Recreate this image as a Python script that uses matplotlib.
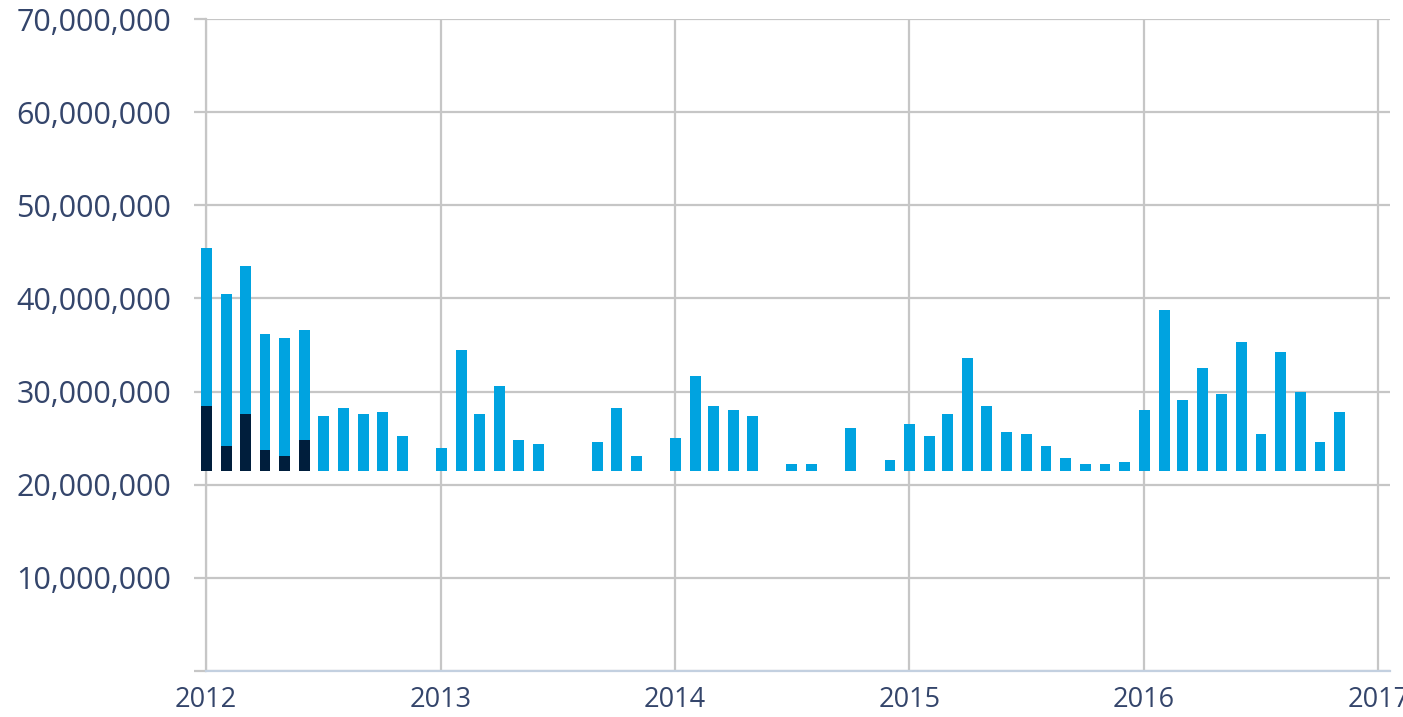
import datetime as dt
import matplotlib
matplotlib.use("Agg")
import matplotlib.pyplot as plt
import matplotlib.dates as mdates
from matplotlib.ticker import FuncFormatter

# monthly totals (bars float from a common base line)
months = ["2012-01", "2012-02", "2012-03", "2012-04", "2012-05", "2012-06",
          "2012-07", "2012-08", "2012-09", "2012-10", "2012-11",
          "2013-01", "2013-02", "2013-03", "2013-04", "2013-05", "2013-06",
          "2013-09", "2013-10", "2013-11",
          "2014-01", "2014-02", "2014-03", "2014-04", "2014-05",
          "2014-07", "2014-08", "2014-10", "2014-12",
          "2015-01", "2015-02", "2015-03", "2015-04", "2015-05", "2015-06",
          "2015-07", "2015-08", "2015-09", "2015-10", "2015-11", "2015-12",
          "2016-01", "2016-02", "2016-03", "2016-04", "2016-05", "2016-06",
          "2016-07", "2016-08", "2016-09", "2016-10", "2016-11"]
totals = [45.4, 40.5, 43.5, 36.2, 35.8, 36.6,
          27.4, 28.2, 27.6, 27.8, 25.2,
          23.9, 34.5, 27.6, 30.6, 24.8, 24.4,
          24.6, 28.2, 23.1,
          25.0, 31.7, 28.4, 28.0, 27.4,
          22.2, 22.2, 26.1, 22.6,
          26.5, 25.2, 27.6, 33.6, 28.4, 25.7,
          25.4, 24.2, 22.9, 22.2, 22.2, 22.4,
          28.0, 38.8, 29.1, 32.5, 29.7, 35.3,
          25.4, 34.2, 30.0, 24.6, 27.8]

# darker series, only first half of 2012
dark_months = ["2012-01", "2012-02", "2012-03", "2012-04", "2012-05", "2012-06"]
dark_values = [28.45, 24.2, 27.6, 23.7, 23.1, 24.8]

BASE = 21.5  # millions
year_ticks = [2012, 2013, 2014, 2015, 2016, 2017]
y_ticks = [0, 10, 20, 30, 40, 50, 60, 70]

LIGHT = "#00a3e0"
DARK = "#001e3c"
GRID = "#c6c6c6"
TEXT = "#34456b"

plt.rcParams['font.family'] = ['Open Sans', 'DejaVu Sans']

def to_date(s):
    y, m = s.split("-")
    return dt.datetime(int(y), int(m), 2)

x = [to_date(m) for m in months]
xd = [to_date(m) for m in dark_months]

fig = plt.figure(figsize=(14.03, 7.17), dpi=100)
ax = fig.add_axes([0.1468, 0.0642, 0.8439, 0.9093])

width = 17  # days
ax.bar(x, [(v - BASE) * 1e6 for v in totals], bottom=BASE * 1e6, width=width,
       color=LIGHT, zorder=3, clip_on=False)
ax.bar(xd, [(v - BASE) * 1e6 for v in dark_values], bottom=BASE * 1e6, width=width,
       color=DARK, zorder=4, clip_on=False)

ax.set_ylim(0, 70e6)
ax.set_xlim(dt.datetime(2012, 1, 1), dt.datetime(2017, 1, 19))
ax.set_yticks([v * 1e6 for v in y_ticks])
ax.yaxis.set_major_formatter(FuncFormatter(lambda v, p: "" if v == 0 else f"{int(v):,}"))
ax.set_xticks([dt.datetime(y, 1, 1) for y in year_ticks])
ax.xaxis.set_major_formatter(mdates.DateFormatter("%Y"))

ax.grid(True, color=GRID, linewidth=1.6, zorder=0)
ax.set_axisbelow(True)
for s in ["top", "right"]:
    ax.spines[s].set_visible(False)
ax.spines["left"].set_color(GRID)
ax.spines["left"].set_linewidth(1.6)
ax.spines["bottom"].set_color("#c3d0e0")
ax.spines["bottom"].set_linewidth(1.6)

ax.tick_params(axis="y", length=9, width=1.6, color=GRID, pad=16,
               labelsize=22, labelcolor=TEXT)
ax.tick_params(axis="x", length=0, pad=11, labelsize=19.5, labelcolor=TEXT)
ax.yaxis.get_major_ticks()[0].tick1line.set_color("#c3d0e0")

fig.savefig("out.png", dpi=100)
